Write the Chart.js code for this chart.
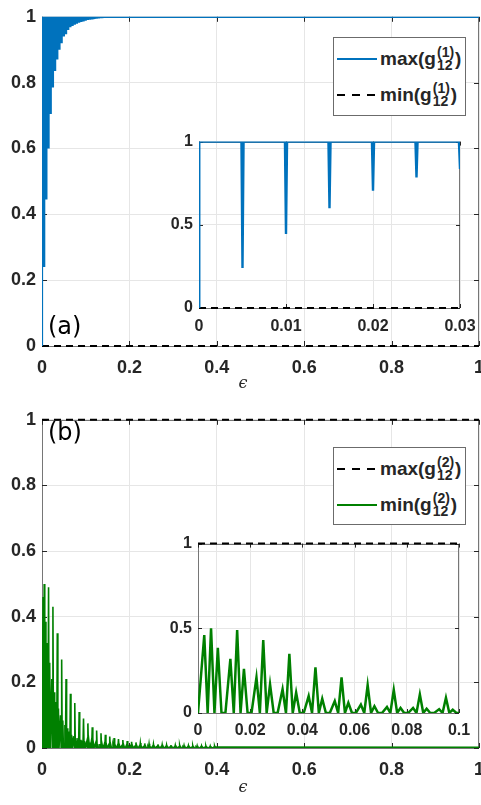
<!DOCTYPE html>
<html>
<head>
<meta charset="utf-8">
<script src="https://cdn.jsdelivr.net/npm/chart.js@4.4.1/dist/chart.umd.min.js"></script>
<style>
html, body { margin: 0; padding: 0; background: #fff; overflow: hidden; width: 481px; height: 805px; }
.box { position: absolute; }
.tag { position: absolute; font: 24px "DejaVu Sans"; line-height: 24px; color: #000; }
.xlab { position: absolute; font: italic 16px "DejaVu Serif"; line-height: 16px; color: #262626; transform: translateX(-50%); }
.legend { position: absolute; background: #fff; border: 1px solid #6b6b6b; box-sizing: border-box; }
.row { position: absolute; left: 3px; height: 34px; display: flex; align-items: center; }
.sample { width: 40px; height: 2px; margin-right: 3px; }
.solidBlue { background: #0072bd; }
.solidGreen { background: #008000; }
.dashed { background: repeating-linear-gradient(to right, #000 0 8px, transparent 8px 15px); }
.txt { font: bold 19px "Liberation Sans"; color: #262626; display: flex; align-items: center; }
.stack { display: inline-flex; flex-direction: column; font-size: 14px; line-height: 13px; margin: 0 1px; }
</style>
</head>
<body>
<div class="box" style="left:0;top:0;width:500px;height:400px"><canvas id="mainA"></canvas></div>
<div class="box" style="left:150px;top:126px;width:340px;height:212px"><canvas id="insetA"></canvas></div>
<div class="box" style="left:0;top:403px;width:500px;height:399px"><canvas id="mainB"></canvas></div>
<div class="box" style="left:150px;top:528px;width:340px;height:215px"><canvas id="insetB"></canvas></div>

<div class="tag" style="left:48px;top:314px">(a)</div>
<div class="tag" style="left:48px;top:420px">(b)</div>
<div class="xlab" style="left:243px;top:375px">ϵ</div>
<div class="xlab" style="left:243px;top:779px">ϵ</div>

<div class="legend" style="left:333px;top:37px;width:133px;height:79px">
  <div class="row" style="top:4px"><span class="sample solidBlue"></span>
    <span class="txt">max(g<span class="stack"><span>(1)</span><span>12</span></span>)</span></div>
  <div class="row" style="top:40px"><span class="sample dashed"></span>
    <span class="txt">min(g<span class="stack"><span>(1)</span><span>12</span></span>)</span></div>
</div>
<div class="legend" style="left:333px;top:447px;width:133px;height:78px">
  <div class="row" style="top:4px"><span class="sample dashed"></span>
    <span class="txt">max(g<span class="stack"><span>(2)</span><span>12</span></span>)</span></div>
  <div class="row" style="top:40px"><span class="sample solidGreen"></span>
    <span class="txt">min(g<span class="stack"><span>(2)</span><span>12</span></span>)</span></div>
</div>

<script>
// tick values
const xTicksMain = [0, 0.2, 0.4, 0.6, 0.8, 1];
const yTicksMain = [0, 0.2, 0.4, 0.6, 0.8, 1];
const xTicksInsetA = [0, 0.01, 0.02, 0.03];
const xTicksInsetB = [0, 0.02, 0.04, 0.06, 0.08, 0.1];
const yTicksInset = [0, 0.5, 1];

// (a) max(g12^(1)): sits at 1, with a narrow dip every 0.005 in epsilon
const dipStep = 0.005;
const dipDepthA = [0.24, 0.445, 0.6, 0.705, 0.785, 0.835, 0.87, 0.9, 0.92, 0.94,
                   0.95, 0.96, 0.968, 0.972, 0.976, 0.979, 0.982, 0.984, 0.986, 0.988,
                   0.99, 0.991, 0.992, 0.993, 0.994, 0.995, 0.996, 0.996, 0.997, 0.997];
const minG1 = [0, 0];

// (b) min(g12^(2)): one period every 0.01, small peak / big peak / small peak
const period = 0.01;
const bigPeakB = [0.5, 0.49, 0.43, 0.35, 0.27, 0.21, 0.165, 0.137, 0.11, 0.09,
                  0.075, 0.063, 0.053, 0.045, 0.04, 0.035, 0.03, 0.027, 0.024, 0.021,
                  0.019, 0.017, 0.015, 0.014, 0.013, 0.012, 0.011, 0.01, 0.0095, 0.009,
                  0.0085, 0.008, 0.0078, 0.0074, 0.007, 0.0067, 0.0064, 0.0061, 0.0058, 0.0055];
const prePeakB = [0.46, 0.32, 0.21, 0.14, 0.10, 0.07, 0.05, 0.036, 0.03, 0.023,
                  0.019, 0.016, 0.014, 0.012, 0.01, 0.009, 0.008, 0.007, 0.0065, 0.006,
                  0.0055, 0.005, 0.0046, 0.0043, 0.004, 0.0038, 0.0036, 0.0034, 0.0032, 0.003,
                  0.003, 0.0028, 0.0027, 0.0026, 0.0025, 0.0024, 0.0023, 0.0022, 0.0021, 0.002];
const postPeakB = [0.385, 0.26, 0.17, 0.12, 0.084, 0.06, 0.04, 0.03, 0.025, 0.02,
                   0.017, 0.014, 0.012, 0.01, 0.009, 0.008, 0.007, 0.0065, 0.006, 0.0055,
                   0.005, 0.0046, 0.0043, 0.004, 0.0038, 0.0036, 0.0034, 0.0032, 0.003, 0.0029,
                   0.0028, 0.0027, 0.0026, 0.0025, 0.0024, 0.0023, 0.0022, 0.0021, 0.002, 0.002];
const tailB = [0.003, 0.0025];   // thin band from 0.4 to 1
const maxG2 = [1, 1];

function maxG1Points() {
    const pts = [{x: 0, y: 0}, {x: 0.00003, y: 1}];
    dipDepthA.forEach((d, i) => {
        const x = (i + 1) * dipStep;
        pts.push({x: x - 0.00012, y: 1}, {x: x, y: d}, {x: x + 0.00012, y: 1});
    });
    pts.push({x: 1, y: 1});
    return pts;
}

function minG2Points() {
    const pts = [];
    bigPeakB.forEach((b, k) => {
        const x0 = k * period;
        pts.push({x: x0 + 0.0005, y: 0}, {x: x0 + 0.0024, y: prePeakB[k]}, {x: x0 + 0.0037, y: 0},
                 {x: x0 + 0.005, y: b}, {x: x0 + 0.0063, y: 0}, {x: x0 + 0.0076, y: postPeakB[k]},
                 {x: x0 + 0.009, y: 0});
    });
    pts[0].x = 0;
    const end = bigPeakB.length * period;
    pts.push({x: end, y: tailB[0]}, {x: 1, y: tailB[1]});
    return pts;
}

const framePlugin = {
    id: 'frame',
    beforeDatasetsDraw(chart) {
        const {ctx, chartArea: a, scales} = chart;
        ctx.save();
        ctx.strokeStyle = '#767676';
        ctx.lineWidth = 1;
        ctx.strokeRect(Math.round(a.left) + 0.5, Math.round(a.top) + 0.5,
                       Math.round(a.right - a.left) - 1, Math.round(a.bottom - a.top));
        const len = chart.options.plugins.frame.tick;
        ctx.strokeStyle = '#262626';
        ctx.beginPath();
        scales.x.ticks.forEach(t => {
            const px = Math.round(scales.x.getPixelForValue(t.value)) + 0.5;
            ctx.moveTo(px, a.bottom); ctx.lineTo(px, a.bottom - len);
            ctx.moveTo(px, a.top); ctx.lineTo(px, a.top + len);
        });
        scales.y.ticks.forEach(t => {
            const py = Math.round(scales.y.getPixelForValue(t.value)) + 0.5;
            ctx.moveTo(a.left, py); ctx.lineTo(a.left + len, py);
            ctx.moveTo(a.right, py); ctx.lineTo(a.right - len, py);
        });
        ctx.stroke();
        ctx.restore();
    }
};

function fmt(v) { return String(+v.toFixed(3)); }

function makeChart(id, datasets, g) {
    const ctx = document.getElementById(id).getContext('2d');
    return new Chart(ctx, {
        type: 'line',
        data: { datasets: datasets },
        plugins: [framePlugin],
        options: {
            responsive: true,
            maintainAspectRatio: false,
            animation: false,
            events: [],
            layout: { padding: { top: g.top, right: g.right, bottom: 0, left: 0 } },
            elements: { point: { radius: 0 }, line: { tension: 0 } },
            plugins: { legend: { display: false }, tooltip: { enabled: false }, frame: { tick: g.tick } },
            scales: {
                x: {
                    type: 'linear', min: 0, max: g.xMax,
                    afterBuildTicks: s => { s.ticks = g.xTicks.map(v => ({value: v})); },
                    afterFit: s => { s.height = g.xHeight; },
                    grid: { color: '#e6e6e6', drawTicks: false },
                    border: { display: false },
                    ticks: { autoSkip: false, maxRotation: 0, padding: g.xPad, color: '#262626',
                             font: { family: 'Liberation Sans', size: g.font, weight: 'bold' }, callback: fmt }
                },
                y: {
                    min: 0, max: 1,
                    afterBuildTicks: s => { s.ticks = g.yTicks.map(v => ({value: v})); },
                    afterFit: s => { s.width = g.yWidth; },
                    grid: { color: '#e6e6e6', drawTicks: false },
                    border: { display: false },
                    ticks: { autoSkip: false, padding: 6, color: '#262626',
                             font: { family: 'Liberation Sans', size: g.font, weight: 'bold' }, callback: fmt }
                }
            }
        }
    });
}

const blue = '#0072bd';
const green = '#008000';
const g1 = maxG1Points();
const g2 = minG2Points();

// flat dashed line across the whole x range; not clipped so it keeps full thickness on the frame
function dashedLine(vals, xMax) {
    return { data: [{x: 0, y: vals[0]}, {x: xMax, y: vals[1]}], borderColor: '#000', borderWidth: 2,
             borderDash: [7, 5], clip: false };
}

const mainGeom = { top: 13, right: 21, xHeight: 54, yWidth: 42, xPad: 11, font: 18, xMax: 1,
                   xTicks: xTicksMain, yTicks: yTicksMain, tick: 5 };

makeChart('mainA', [
    { data: g1, borderColor: blue, borderWidth: 2.2 },
    dashedLine(minG1, 1)
], mainGeom);

makeChart('insetA', [
    { data: g1, borderColor: blue, borderWidth: 2.4 },
    dashedLine(minG1, 0.03)
], { top: 10, right: 30, xHeight: 30, yWidth: 49, xPad: 9, font: 16, xMax: 0.03,
     xTicks: xTicksInsetA, yTicks: yTicksInset, tick: 4 });

makeChart('mainB', [
    dashedLine(maxG2, 1),
    { data: g2, borderColor: green, borderWidth: 1.6 }
], mainGeom);

makeChart('insetB', [
    dashedLine(maxG2, 0.1),
    { data: g2, borderColor: green, borderWidth: 2.5 }
], { top: 10, right: 31, xHeight: 30, yWidth: 48, xPad: 8, font: 16, xMax: 0.1,
     xTicks: xTicksInsetB, yTicks: yTicksInset, tick: 4 });
</script>
</body>
</html>
